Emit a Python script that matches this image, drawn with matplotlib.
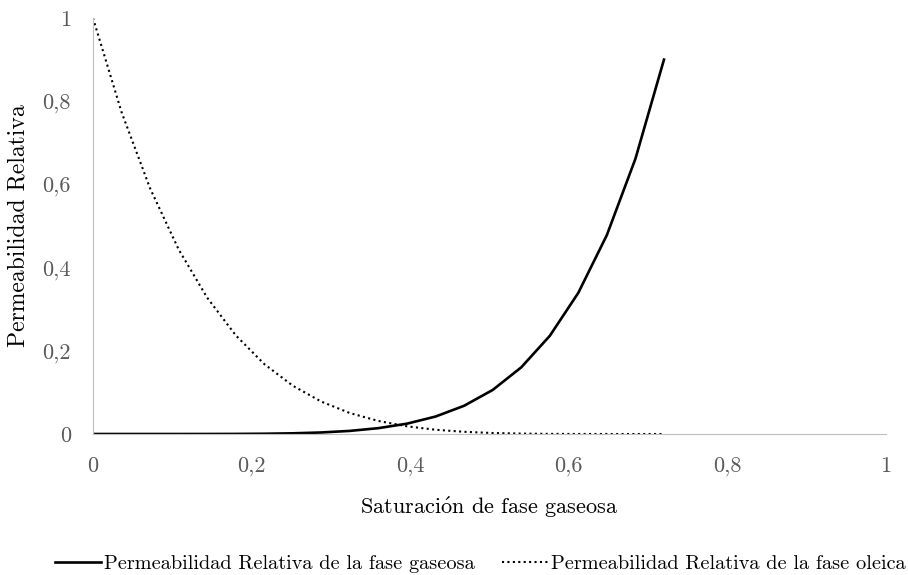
import matplotlib
matplotlib.use("Agg")
import matplotlib.pyplot as plt

# saturación de gas y permeabilidades relativas
sg = [0, 0.036, 0.072, 0.108, 0.144, 0.18, 0.216, 0.252, 0.288, 0.324, 0.36,
      0.396, 0.432, 0.468, 0.504, 0.54, 0.576, 0.612, 0.648, 0.684, 0.72]
krg = [0, 0, 0, 0.00001, 0.00006, 0.00022, 0.00066, 0.00166, 0.0037, 0.0075, 0.0141,
       0.0249, 0.042, 0.0679, 0.1059, 0.1602, 0.2359, 0.3394, 0.4783, 0.6616, 0.9]
kro = [1, 0.7738, 0.5905, 0.4437, 0.3277, 0.2373, 0.1681, 0.116, 0.0778, 0.0503, 0.0313,
       0.0185, 0.0102, 0.0053, 0.0024, 0.001, 0.0003, 0.0001, 0, 0, 0]

ticks = [0, 0.2, 0.4, 0.6, 0.8, 1]
ticklabels = ["0", "0,2", "0,4", "0,6", "0,8", "1"]

plt.rcParams["font.family"] = ["cmr10", "DejaVu Serif"]
plt.rcParams["mathtext.fontset"] = "cm"

fig = plt.figure(figsize=(9.08, 5.75), dpi=100)
ax = fig.add_axes([0.1024, 0.2452, 0.8734, 0.7235])

ax.plot(sg, krg, color="black", lw=1.9, label="Permeabilidad Relativa de la fase gaseosa")
ax.plot(sg, kro, color="black", lw=1.5, linestyle=(0, (1, 1.6)),
        label="Permeabilidad Relativa de la fase oleica")

ax.set_xlim(0, 1)
ax.set_ylim(0, 1)
ax.set_xticks(ticks)
ax.set_xticklabels(ticklabels)
ax.set_yticks(ticks)
ax.set_yticklabels(ticklabels)
ax.tick_params(length=0, labelsize=16, colors="#595959")
ax.tick_params(axis="x", pad=16)
ax.tick_params(axis="y", pad=16)

for s in ["top", "right"]:
    ax.spines[s].set_visible(False)
ax.spines["left"].set_color("#bfbfbf")
ax.spines["bottom"].set_color("#bfbfbf")

ax.set_xlabel(r"Saturaci$\acute{\mathrm{o}}$n de fase gaseosa", fontsize=16,
              color="black", labelpad=14)
ax.set_ylabel("Permeabilidad Relativa", fontsize=17, color="black", labelpad=9)

fig.legend(loc="lower center", bbox_to_anchor=(0.529, -0.028), ncol=2, frameon=False,
           fontsize=14.6, handlelength=2.3, columnspacing=1.3, handletextpad=0.15)

fig.savefig("out.png", dpi=100)
